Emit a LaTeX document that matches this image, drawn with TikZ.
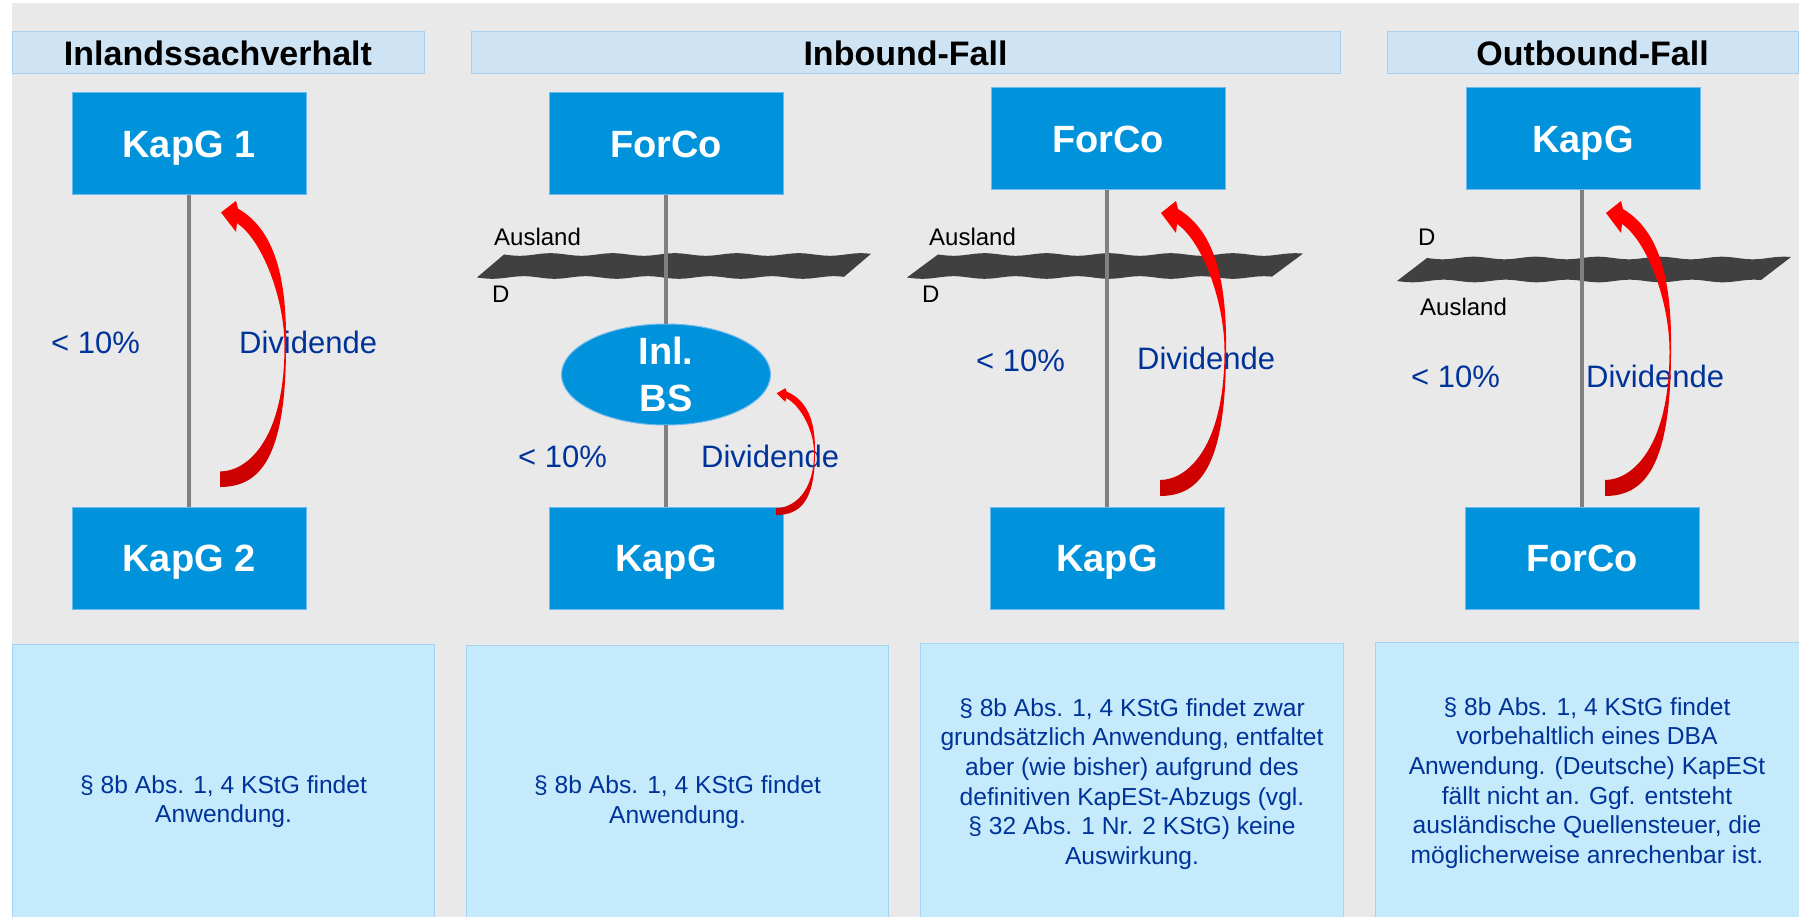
\documentclass[tikz,border=0pt]{standalone}
\usepackage{fontspec}
\setmainfont{Liberation Sans}
\usetikzlibrary{shapes.geometric}

\definecolor{bggray}{RGB}{233,233,233}
\definecolor{hdrfill}{RGB}{206,227,243}
\definecolor{hdrline}{RGB}{170,208,238}
\definecolor{cofill}{RGB}{0,146,218}
\definecolor{coline}{RGB}{110,185,240}
\definecolor{notefill}{RGB}{197,234,251}
\definecolor{noteline}{RGB}{165,212,242}
\definecolor{navy}{RGB}{0,51,153}
\definecolor{bandgray}{RGB}{64,64,64}
\definecolor{linkgray}{RGB}{128,128,128}
\definecolor{arrred}{RGB}{255,0,0}
\definecolor{arrdark}{RGB}{200,0,0}

\tikzset{
  hdr/.style={fill=hdrfill, draw=hdrline, line width=1pt, inner sep=0pt, outer sep=0pt,
    minimum height=42pt, font=\bfseries\fontsize{34}{40}\selectfont,
    text height=24.4pt, text depth=0pt},
  company/.style={fill=cofill, draw=coline, line width=1pt, inner sep=0pt, outer sep=0pt,
    minimum width=234pt, minimum height=102pt, text=white,
    font=\bfseries\fontsize{38}{45}\selectfont, text height=27.2pt, text depth=0pt},
  branch/.style={ellipse, fill=cofill, draw=coline, line width=1pt, inner sep=0pt,
    outer sep=0pt, minimum width=209pt, minimum height=101pt},
  branchtext/.style={text=white, font=\bfseries\fontsize{38}{47}\selectfont,
    align=center, inner sep=0pt},
  note/.style={fill=notefill, draw=noteline, line width=1pt, inner sep=0pt,
    outer sep=0pt, anchor=north, minimum height=290pt},
  notetext/.style={text=navy, font=\fontsize{24.6}{29.6}\selectfont, align=center,
    inner sep=0pt},
  share/.style={text=navy, font=\fontsize{31}{37}\selectfont, inner sep=0pt,
    anchor=base west},
  border/.style={text=black, font=\fontsize{24}{29}\selectfont, inner sep=0pt,
    anchor=base west},
  link/.style={draw=linkgray, line width=4.5pt},
}

% wavy border band: #1 top-left x, #2 top-right x, #3 top y, #4 slant offset
\newcommand\borderband[4]{%
  \fill[bandgray]
    plot[domain=#1:#2, samples=90] (\x, {#3+1.3*sin(5.8*(\x-#1))})
    -- plot[domain=#2-#4:#1-#4, samples=90] (\x, {#3+23+1.3*sin(5.8*(\x-#1+#4))})
    -- cycle;}

% curved dividend arrow: #1 origin coordinate, #2 x scale, #3 y scale
\newcommand\dividendarrow[3]{%
  \begin{scope}[shift={(#1)}, xscale=#2, yscale=-#3]
    \shade[top color=arrred, bottom color=arrdark, middle color=arrred]
      (0,0) .. controls (40,0) and (66,30) .. (66,145)
      .. controls (67,215) and (55,265) .. (18,287)
      -- (16,295) -- (1,283) -- (16,263) -- (17,272)
      .. controls (42,255) and (64.5,195) .. (64.5,145)
      .. controls (64.5,50) and (28,16) .. (0,16) -- cycle;
  \end{scope}}

\begin{document}
\begin{tikzpicture}[x=1pt, y=-1pt]
  \useasboundingbox (0,0) rectangle (1799,917);
  \fill[white] (0,0) rectangle (1799,917);
  \fill[bggray] (12,3) rectangle (1799,917);

  % column headers
  \node[hdr, minimum width=412pt] (h1) at (218,53) {Inlandssachverhalt};
  \node[hdr, minimum width=869pt] (h2) at (905.5,53) {Inbound-Fall};
  \node[hdr, minimum width=411pt] (h3) at (1592.5,53) {Outbound-Fall};

  % border bands between Germany and abroad
  \borderband{504}{871}{254.5}{27}
  \borderband{938}{1303}{254.5}{31}
  \borderband{1427}{1791}{258}{30}

  % companies
  \node[company] (k1) at (189,144) {KapG 1};
  \node[company] (k2) at (189,558) {KapG 2};
  \node[company] (fc2) at (666,144) {ForCo};
  \node[branch] (bs) at (666,374.5) {};
  \node[branchtext] (bst) at (bs.center) {Inl.\\BS};
  \node[company] (kg2) at (666,558) {KapG};
  \node[company] (fc3) at (1108,139) {ForCo};
  \node[company] (kg3) at (1107,558) {KapG};
  \node[company] (kg4) at (1583,139) {KapG};
  \node[company] (fc4) at (1582,558) {ForCo};

  % shareholding links
  \draw[link] (k1.south) -- (k2.north);
  \draw[link] (fc2.south) -- (bs.north);
  \draw[link] (bs.south) -- (kg2.north);
  \draw[link] (kg3.north |- fc3.south) -- (kg3.north);
  \draw[link] (fc4.north |- kg4.south) -- (fc4.north);

  % side labels
  \node[border] (aus2) at (494,246) {Ausland};
  \node[border] (d2) at (492,302) {D};
  \node[border] (aus3) at (929,246) {Ausland};
  \node[border] (d3) at (922,302) {D};
  \node[border] (d4) at (1418,246) {D};
  \node[border] (aus4) at (1420,316) {Ausland};

  % shareholding and dividend labels
  \node[share] (p1) at (51,353) {< 10\%};
  \node[share] (dv1) at (239,353) {Dividende};
  \node[share] (p2) at (518,467) {< 10\%};
  \node[share] (dv2) at (701,467) {Dividende};
  \node[share] (p3) at (976,371) {< 10\%};
  \node[share] (dv3) at (1137,369) {Dividende};
  \node[share] (p4) at (1411,387) {< 10\%};
  \node[share] (dv4) at (1586,387) {Dividende};

  % dividend flows
  \coordinate (a1) at (220,487);
  \coordinate (a2) at (776,515);
  \coordinate (a3) at (1160,496);
  \coordinate (a4) at (1605,496);
  \dividendarrow{a1}{1}{0.97}
  \dividendarrow{a2}{0.59}{0.43}
  \dividendarrow{a3}{1}{1}
  \dividendarrow{a4}{1}{1}

  % legal notes
  \node[note, minimum width=422pt] (n1) at (223.6,644) {};
  \node[note, minimum width=422pt] (n2) at (677.6,645) {};
  \node[note, minimum width=423pt] (n3) at (1132.2,643) {};
  \node[note, minimum width=424pt] (n4) at (1587,642) {};
  \node[notetext] (n1t) at (223.6,801.6) {§ 8b Abs. 1, 4 KStG findet\\Anwendung.};
  \node[notetext] (n2t) at (677.6,802) {§ 8b Abs. 1, 4 KStG findet\\Anwendung.};
  \node[notetext] (n3t) at (1132,784) {§ 8b Abs. 1, 4 KStG findet zwar\\grundsätzlich Anwendung, entfaltet\\aber (wie bisher) aufgrund des\\definitiven KapESt-Abzugs (vgl.\\§ 32 Abs. 1 Nr. 2 KStG) keine\\Auswirkung.};
  \node[notetext] (n4t) at (1587,783) {§ 8b Abs. 1, 4 KStG findet\\vorbehaltlich eines DBA\\Anwendung. (Deutsche) KapESt\\fällt nicht an. Ggf. entsteht\\ausländische Quellensteuer, die\\möglicherweise anrechenbar ist.};
\end{tikzpicture}
\end{document}
